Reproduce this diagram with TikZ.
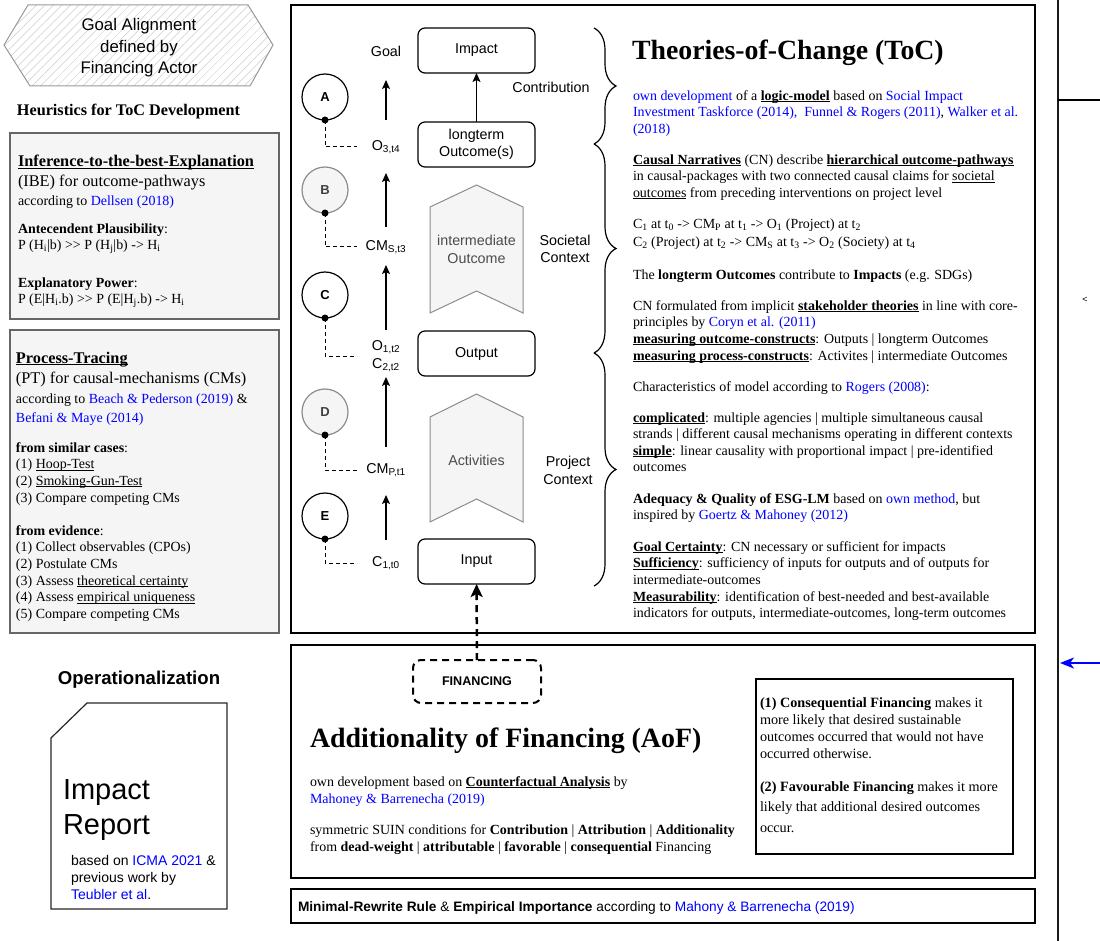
\documentclass[tikz,border=0pt]{standalone}
\usepackage{fontspec}
\setmainfont{Liberation Serif}
\setsansfont{Liberation Sans}
\usepackage{tikz}
\usetikzlibrary{arrows.meta,positioning,decorations.pathreplacing,patterns.meta}

\definecolor{linkblue}{HTML}{0000FF}
\definecolor{panelfill}{HTML}{F5F5F5}
\definecolor{panelline}{HTML}{666666}
\definecolor{stepgray}{HTML}{8C8C8C}

\newcommand{\srcref}[1]{\textcolor{linkblue}{#1}}
% underline sitting just under the baseline
\newcommand{\baseul}[1]{\leavevmode\setbox0=\hbox{#1}\rlap{\rule[-0.13em]{\wd0}{0.065em}}\box0\relax}
\newcommand{\keyterm}[1]{\baseul{\textbf{#1}}}

\begin{document}
\begin{tikzpicture}[x=1pt,y=-1pt,
        every node/.style={inner sep=0pt,outer sep=0pt},
        txt/.style={anchor=north west,align=left,font=\fontsize{13.95}{16.6}\selectfont},
        head/.style={anchor=north west,align=left,font=\fontsize{16.3}{20.5}\selectfont},
        sanslbl/.style={font=\sffamily\fontsize{14.3}{17.5}\selectfont,align=center},
        block/.style={draw,rounded corners=7pt,minimum width=117pt,minimum height=45pt,line width=1.2pt,sanslbl},
        marker/.style={circle,draw,line width=1.2pt,minimum size=46pt,font=\sffamily\bfseries\fontsize{13}{15}\selectfont},
        faded/.style={marker,draw=stepgray,fill=panelfill,text=black!75},
        claim/.style={sanslbl,minimum width=50pt,minimum height=16pt},
        upflow/.style={line width=1.2pt,-{Stealth[length=9pt,width=8pt,inset=2pt]}},
        tie/.style={line width=1pt,dash pattern=on 4pt off 3pt},
        chev/.style={draw=stepgray,fill=panelfill,line width=1pt},
        curly/.style={decorate,decoration={brace,amplitude=22pt},line width=1.2pt},
        panel/.style={draw=panelline,fill=panelfill,line width=1.2pt},
        outline/.style={draw,line width=1.2pt}]
   \useasboundingbox (0,0) rectangle (1100,941);

   % left column
   \draw[pattern={Lines[angle=45,distance=6pt,line width=0.5pt]},pattern color=gray!40,
         draw=gray!80,line width=1pt] (4,45) -- (28,5) -- (248,5) -- (273,45) -- (250,86) -- (30,86) -- cycle;
   \node[font=\sffamily\fontsize{16.8}{21.5}\selectfont,align=center] (goalalign) at (139,48)
      {Goal Alignment\\defined by\\Financing Actor};
   \node[font=\bfseries\fontsize{16.2}{19}\selectfont] (heuristics) at (128.5,111.5) {Heuristics for ToC Development};

   \draw[panel] (10,133) rectangle (279,319);
   \node[head] (ibehead) at (18,155) {\keyterm{Inference-to-the-best-Explanation}\\(IBE) for outcome-pathways};
   \node[txt] (ibesrc) at (18,195.5) {according to \srcref{Dellsen (2018)}};
   \node[txt] (plaus) at (18,223.5) {\textbf{Antecendent Plausibility}:\\
      P (H\textsubscript{i}|b) >{}> P (H\textsubscript{j}|b) -> H\textsubscript{i}};
   \node[txt] (power) at (18,277.5) {\textbf{Explanatory Power}:\\
      P (E|H\textsubscript{i}.b) >{}> P (E|H\textsubscript{j}.b) -> H\textsubscript{i}};

   \draw[panel] (10,330) rectangle (279,633);
   \node[head] (pthead) at (16,352) {\keyterm{Process-Tracing}\\(PT) for causal-mechanisms (CMs)};
   \node[txt,font=\fontsize{13.95}{19}\selectfont] (ptsrc) at (16,393.5)
      {according to \srcref{Beach \& Pederson (2019)} \&\\\srcref{Befani \& Maye (2014)}};
   \node[txt] (similar) at (16,442.5) {\textbf{from similar cases}:\\(1) \baseul{Hoop-Test}\\
      (2) \baseul{Smoking-Gun-Test}\\(3) Compare competing CMs};
   \node[txt] (evidence) at (16,525.5) {\textbf{from evidence}:\\(1) Collect observables (CPOs)\\
      (2) Postulate CMs\\(3) Assess \baseul{theoretical certainty}\\
      (4) Assess \baseul{empirical uniqueness}\\(5) Compare competing CMs};

   \node[font=\sffamily\bfseries\fontsize{18.6}{22}\selectfont] (operational) at (139,680) {Operationalization};
   \draw[line width=1.2pt,draw=black!85] (51,738) -- (87,703) -- (227,703) -- (227,909) -- (51,909) -- cycle;
   \node[anchor=north west,align=left,font=\sffamily\fontsize{29}{35}\selectfont] (report) at (63,780) {Impact\\Report};
   \node[anchor=north west,align=left,font=\sffamily\fontsize{14}{17}\selectfont] (reportsrc) at (71,855.5)
      {based on \srcref{ICMA 2021} \&\\previous work by\\\srcref{Teubler et al}.};

   % theory of change
   \draw[outline] (291,5) rectangle (1035,633);

   \node[block] (impact) at (476.5,50.5) {Impact};
   \node[block,below=49pt of impact] (longterm) {longterm\\Outcome(s)};
   \node[block,below=164pt of longterm] (output) {Output};
   \node[block,below=163pt of output] (input) {Input};
   \draw[upflow] (longterm) -- (impact);

   \draw[chev] (430,207) -- (476.5,185) -- (523,207) -- (523,313) -- (476.5,291) -- (430,313) -- cycle;
   \draw[chev] (430,417) -- (476.5,394) -- (523,417) -- (523,522) -- (476.5,499) -- (430,522) -- cycle;
   \node[sanslbl,text=black!70] (interm) at (476.5,249.5) {intermediate\\Outcome};
   \node[sanslbl,text=black!70] (activities) at (476.5,460) {Activities};

   \node[marker] (A) at (325,97) {A};
   \node[faded]  (B) at (325,190) {B};
   \node[marker] (C) at (325,295) {C};
   \node[faded]  (D) at (325,412) {D};
   \node[marker] (E) at (325,516) {E};

   \node[claim] (goal) at (386,51) {Goal};
   \node[claim] (o3) at (386,147) {O\textsubscript{3,t4}};
   \node[claim] (cms) at (386,247) {CM\textsubscript{S,t3}};
   \node[claim] (oc) at (386,356) {O\textsubscript{1,t2}\\C\textsubscript{2,t2}};
   \node[claim] (cmp) at (386,470) {CM\textsubscript{P,t1}};
   \node[claim] (c1) at (386,563) {C\textsubscript{1,t0}};

   \draw[upflow,shorten <=19pt,shorten >=21pt] (o3) -- (goal);
   \draw[upflow,shorten <=12pt,shorten >=18pt] (cms) -- (o3);
   \draw[upflow,shorten <=10.5pt,shorten >=10pt] (oc) -- (cms);
   \draw[upflow,shorten <=15pt,shorten >=5.5pt] (cmp) -- (oc);
   \draw[upflow,shorten <=15pt,shorten >=17pt] (c1) -- (cmp);

   \draw[tie,shorten >=4pt] (A.south) |- (o3.west);
   \draw[tie,shorten >=4pt] (B.south) |- (cms.west);
   \draw[tie,shorten >=4pt] (C.south) |- (oc.west);
   \draw[tie,shorten >=4pt] (D.south) |- (cmp.west);
   \draw[tie,shorten >=4pt] (E.south) |- (c1.west);
   \foreach \m in {A,B,C,D,E}
      \fill (\m.south) circle (3.5pt);

   \node[sanslbl] (contrib) at (551,87) {Contribution};
   \node[sanslbl] (societal) at (565,249) {Societal\\Context};
   \node[sanslbl] (project) at (568,470.5) {Project\\Context};
   \draw[curly] (594,28) -- (594,144);
   \draw[curly] (594,144) -- (594,353);
   \draw[curly] (594,353) -- (594,586);

   \node[anchor=west,font=\bfseries\fontsize{27.8}{32}\selectfont] (toctitle) at (632,52.5) {Theories-of-Change (ToC)};
   \node[txt] (logic) at (633,90.5) {\srcref{own development} of a \keyterm{logic-model} based on \srcref{Social Impact}\\
      \srcref{Investment Taskforce (2014),}~ \srcref{Funnel \& Rogers (2011)}, \srcref{Walker et al.}\\
      \srcref{(2018)}};
   \node[txt] (narratives) at (633,154.5) {\keyterm{Causal Narratives} (CN) describe \keyterm{hierarchical outcome-pathways}\\
      in causal-packages with two connected causal claims for \baseul{societal}\\
      \baseul{outcomes} from preceding interventions on project level};
   \node[txt] (claims) at (633,218.5) {C\textsubscript{1} at t\textsubscript{0} -> CM\textsubscript{P} at t\textsubscript{1} -> O\textsubscript{1} (Project) at t\textsubscript{2}\\[2pt]
      C\textsubscript{2} (Project) at t\textsubscript{2} -> CM\textsubscript{S} at t\textsubscript{3} -> O\textsubscript{2} (Society) at t\textsubscript{4}};
   \node[txt] (contribute) at (633,269.5) {The \textbf{longterm Outcomes} contribute to \textbf{Impacts} (e.g. SDGs)};
   \node[txt] (stakeholder) at (633,300.5) {CN formulated from implicit \keyterm{stakeholder theories} in line with core-\\
      principles by \srcref{Coryn et al. (2011)}\\
      \keyterm{measuring outcome-constructs}: Outputs | longterm Outcomes\\
      \keyterm{measuring process-constructs}: Activites | intermediate Outcomes};
   \node[txt] (rogers) at (633,381.5) {Characteristics of model according to \srcref{Rogers (2008)}:};
   \node[txt] (complicated) at (633,412.5) {\keyterm{complicated}: multiple agencies | multiple simultaneous causal\\
      strands | different causal mechanisms operating in different contexts\\
      \keyterm{simple}: linear causality with proportional impact | pre-identified\\
      outcomes};
   \node[txt] (adequacy) at (633,493.5) {\textbf{Adequacy \& Quality of ESG-LM} based on \srcref{own method}, but\\
      inspired by \srcref{Goertz \& Mahoney (2012)}};
   \node[txt] (criteria) at (633,541.5) {\keyterm{Goal Certainty}: CN necessary or sufficient for impacts\\
      \keyterm{Sufficiency}: sufficiency of inputs for outputs and of outputs for\\
      intermediate-outcomes\\
      \keyterm{Measurability}: identification of best-needed and best-available\\
      indicators for outputs, intermediate-outcomes, long-term outcomes};

   % additionality of financing
   \draw[outline] (291,645) rectangle (1035,878);
   \node[draw,line width=2pt,dash pattern=on 7pt off 5pt,rounded corners=8pt,minimum width=128pt,minimum height=43pt,
         font=\sffamily\bfseries\fontsize{12.6}{15}\selectfont] (financing) at (477,681.5) {FINANCING};
   \draw[line width=2.5pt,dash pattern=on 7pt off 5pt,-{Stealth[length=13pt,width=12pt,inset=3pt]}] (financing) -- (input);

   \node[anchor=west,font=\bfseries\fontsize{27.9}{32}\selectfont] (aoftitle) at (310,741) {Additionality of Financing (AoF)};
   \node[txt,font=\fontsize{13.95}{17}\selectfont] (counterfactual) at (310,776.5)
      {own development based on \keyterm{Counterfactual Analysis} by\\\srcref{Mahoney \& Barrenecha (2019)}};
   \node[txt,font=\fontsize{13.95}{17}\selectfont] (suin) at (310,824.5)
      {symmetric SUIN conditions for \textbf{Contribution} | \textbf{Attribution} | \textbf{Additionality}\\
      from \textbf{dead-weight} | \textbf{attributable} | \textbf{favorable} | \textbf{consequential} Financing};

   \draw[outline] (756,679) rectangle (1013,854);
   \node[txt,font=\fontsize{14.2}{17}\selectfont] (consequential) at (760,697.5)
      {\textbf{(1) Consequential Financing} makes it\\more likely that desired sustainable\\
      outcomes occurred that would not have\\occurred otherwise.};
   \node[txt,font=\fontsize{14.2}{20.5}\selectfont] (favourable) at (760,781.5)
      {\textbf{(2) Favourable Financing} makes it more\\likely that additional desired outcomes\\occur.};

   \draw[outline] (291,889) rectangle (1035,923);
   \node[anchor=west,font=\sffamily\fontsize{13.7}{16}\selectfont] (rewrite) at (298,908)
      {\textbf{Minimal-Rewrite Rule} \& \textbf{Empirical Importance} according to \srcref{Mahony \& Barrenecha (2019)}};

   % right strip
   \draw[line width=2.5pt,draw=black!90] (1058,0) -- (1058,941);
   \draw[line width=2pt] (1058,100) -- (1100,100);
   \node[font=\sffamily\fontsize{9}{10}\selectfont] (lt) at (1085,300) {<};
   \coordinate (stripedge) at (1100,663);
   \coordinate (stripline) at (1060,663);
   \draw[linkblue,line width=2pt,-{Stealth[length=14pt,width=11pt,inset=4pt]}] (stripedge) -- (stripline);
\end{tikzpicture}
\end{document}
